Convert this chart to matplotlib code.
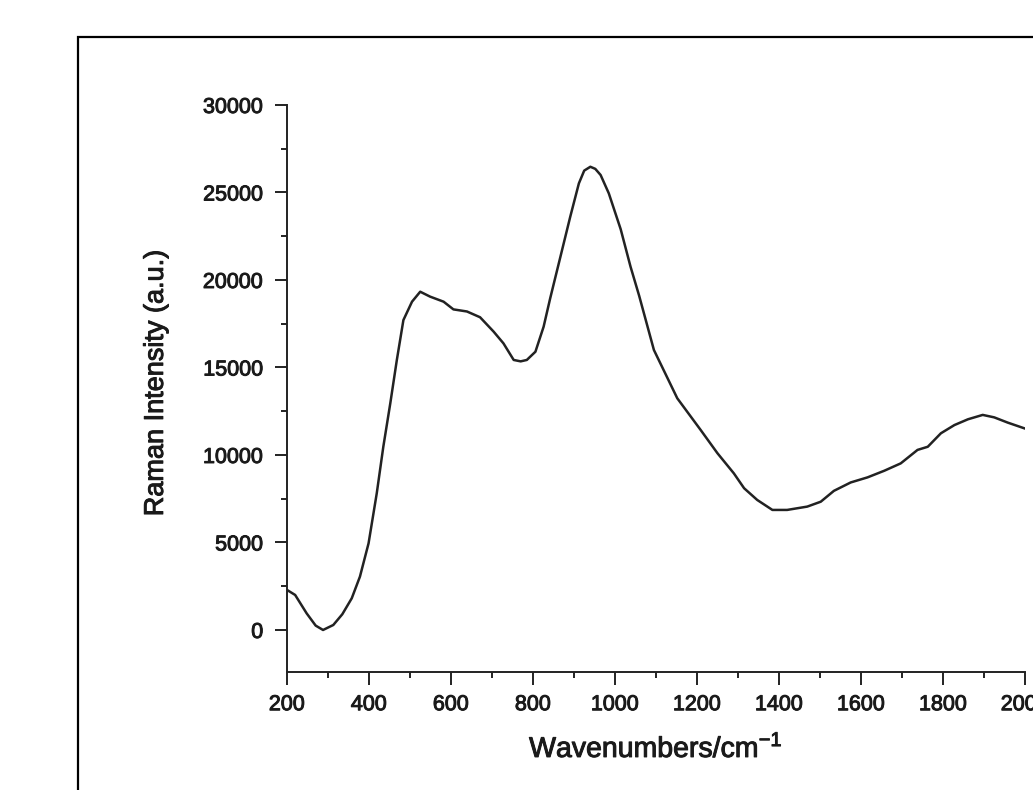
import numpy as np
import matplotlib
matplotlib.use('Agg')
import matplotlib.pyplot as plt
import matplotlib.patheffects as pe
from matplotlib.patches import Rectangle
from matplotlib.ticker import MultipleLocator

# Raman spectrum, values
wavenumber = [200, 220, 248, 270, 288, 313, 335, 358, 378, 399, 419, 435, 452,
              468, 484, 505, 525, 549, 582, 606, 639, 671, 704, 728, 753, 770,
              785, 806, 826, 842, 867, 891, 912, 925, 940, 952, 965, 985, 1014,
              1038, 1059, 1095, 1152, 1209, 1250, 1290, 1315, 1347, 1384, 1420,
              1469, 1502, 1534, 1575, 1616, 1657, 1697, 1738, 1763, 1795, 1828,
              1861, 1897, 1925, 1958, 1999]
intensity = [2290, 2000, 950, 250, 0, 285, 900, 1810, 3050, 4950, 7810, 10470,
             12950, 15430, 17710, 18760, 19330, 19050, 18760, 18320, 18200,
             17870, 17050, 16380, 15430, 15350, 15430, 15900, 17330, 18950,
             21330, 23620, 25520, 26250, 26470, 26350, 26000, 24950, 22900,
             20760, 19100, 16000, 13240, 11430, 10100, 8950, 8100, 7430, 6860,
             6860, 7050, 7330, 7950, 8430, 8720, 9100, 9520, 10290, 10470, 11240,
             11710, 12040, 12290, 12150, 11850, 11520]

plt.rcParams['font.family'] = ['Liberation Sans', 'DejaVu Sans']
text_col = '#1a1a1a'
thicken = [pe.withStroke(linewidth=0.7, foreground=text_col)]

fig = plt.figure(figsize=(10.33, 7.90), dpi=100)

# outer frame of the original figure (runs off the right and bottom edges)
fig.patches.append(Rectangle((0.0755, -0.1), 2.0, 1.053, transform=fig.transFigure,
                             fill=False, edgecolor='black', linewidth=1.6))

ax = fig.add_axes([0.2778, 0.1494, 0.7144, 0.7177])
ax.plot(wavenumber, intensity, color='#222222', linewidth=1.8)

ax.set_xlim(200, 2000)
ax.set_ylim(-2400, 30000)
ax.xaxis.set_major_locator(MultipleLocator(200))
ax.xaxis.set_minor_locator(MultipleLocator(100))
ax.yaxis.set_major_locator(MultipleLocator(5000))
ax.yaxis.set_minor_locator(MultipleLocator(2500))

for side in ['top', 'right']:
    ax.spines[side].set_visible(False)
for side in ['left', 'bottom']:
    ax.spines[side].set_linewidth(1.4)
    ax.spines[side].set_color('#222222')

ax.tick_params(axis='both', which='major', direction='out', length=9, width=1.4,
               labelsize=15.5, colors='#222222', labelcolor=text_col)
ax.tick_params(axis='both', which='minor', direction='out', length=4.5, width=1.4,
               colors='#222222')
ax.tick_params(axis='x', which='major', pad=7)
ax.tick_params(axis='y', which='major', pad=8)

for lbl in ax.get_xticklabels() + ax.get_yticklabels():
    lbl.set_path_effects(thicken)

ax.set_xlabel('Wavenumbers/cm$^{\\mathregular{-1}}$', fontsize=20.5, color=text_col,
              path_effects=thicken)
ax.set_ylabel('Raman Intensity (a.u.)', fontsize=19.5, color=text_col,
              path_effects=thicken)
ax.xaxis.set_label_coords(0.5, -0.108)
ax.yaxis.set_label_coords(-0.16, 0.51)

fig.savefig('out.png', dpi=100)
